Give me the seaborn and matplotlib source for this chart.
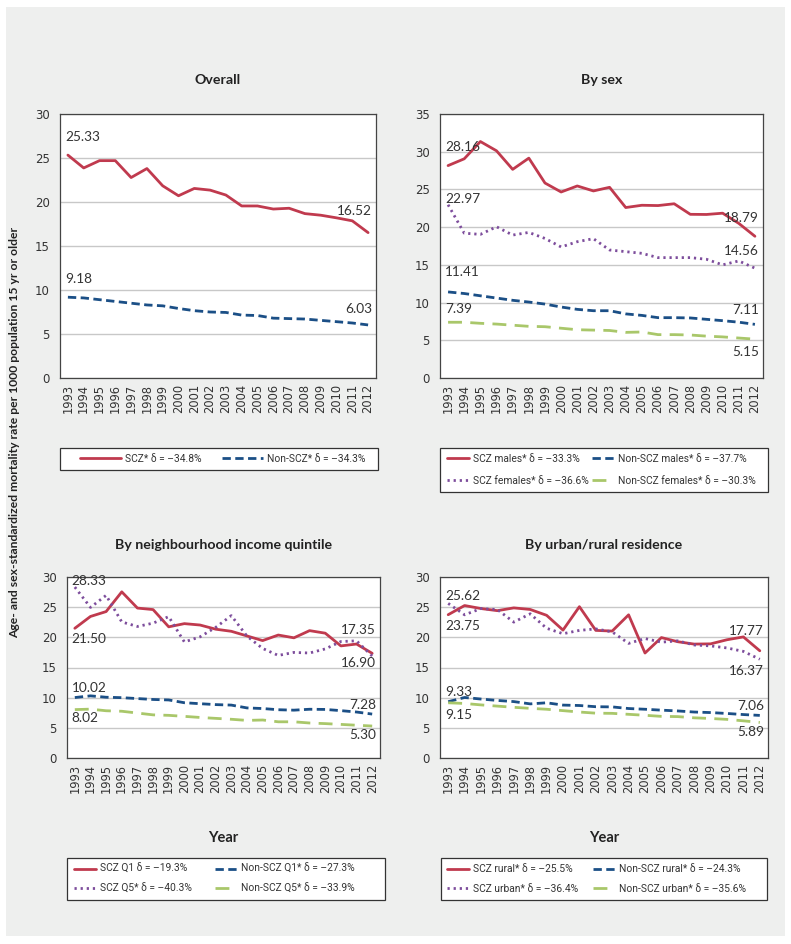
import matplotlib
matplotlib.use("Agg")
import pandas as pd
import matplotlib.pyplot as plt
import seaborn as sns
from matplotlib.patches import Rectangle
from matplotlib.ticker import MultipleLocator, FixedLocator

# --------------------------------------------------
# DATA
# --------------------------------------------------

years = list(range(1993, 2013))

overall_scz = [25.33, 23.87, 24.70, 24.70, 22.78, 23.80, 21.84, 20.71, 21.54, 21.35,
               20.79, 19.55, 19.55, 19.20, 19.29, 18.68, 18.50, 18.20, 17.86, 16.52]
overall_non = [9.18, 9.10, 8.90, 8.70, 8.50, 8.30, 8.20, 7.90, 7.65, 7.50,
               7.45, 7.15, 7.10, 6.80, 6.75, 6.70, 6.55, 6.40, 6.25, 6.03]

male_scz = [28.16, 29.06, 31.35, 30.12, 27.66, 29.15, 25.85, 24.66, 25.46, 24.80,
            25.28, 22.60, 22.90, 22.86, 23.10, 21.70, 21.68, 21.85, 20.50, 18.79]
female_scz = [22.97, 19.20, 19.04, 20.05, 18.95, 19.30, 18.50, 17.37, 18.07, 18.47,
              16.97, 16.75, 16.53, 15.96, 15.96, 15.96, 15.74, 15.00, 15.52, 14.56]
male_non = [11.41, 11.20, 10.90, 10.60, 10.30, 10.07, 9.80, 9.41, 9.10, 8.92,
            8.92, 8.50, 8.30, 8.00, 8.00, 7.96, 7.78, 7.60, 7.40, 7.11]
female_non = [7.39, 7.39, 7.25, 7.15, 7.00, 6.85, 6.80, 6.60, 6.40, 6.35,
              6.30, 6.05, 6.10, 5.75, 5.75, 5.70, 5.55, 5.45, 5.30, 5.15]

q1_scz = [21.50, 23.46, 24.27, 27.54, 24.85, 24.60, 21.74, 22.27, 22.04, 21.35,
          21.00, 20.23, 19.46, 20.38, 19.92, 21.11, 20.69, 18.58, 18.89, 17.35]
q5_scz = [28.33, 24.96, 26.96, 22.55, 21.80, 22.35, 23.43, 19.23, 20.08, 21.65,
          23.60, 20.20, 18.16, 17.00, 17.50, 17.40, 18.08, 19.30, 19.42, 16.90]
q1_non = [10.02, 10.30, 10.07, 10.00, 9.85, 9.70, 9.62, 9.16, 9.00, 8.85,
          8.77, 8.30, 8.20, 8.00, 7.93, 8.08, 8.05, 7.85, 7.62, 7.28]
q5_non = [8.02, 8.10, 7.83, 7.75, 7.45, 7.15, 7.07, 6.90, 6.72, 6.57,
          6.42, 6.23, 6.30, 6.00, 6.00, 5.80, 5.70, 5.57, 5.43, 5.30]

rural_scz = [23.75, 25.27, 24.77, 24.42, 24.88, 24.62, 23.65, 21.20, 25.08, 21.15,
             21.04, 23.73, 17.40, 19.96, 19.27, 18.88, 18.92, 19.60, 20.07, 17.77]
urban_scz = [25.62, 23.73, 24.77, 24.60, 22.52, 23.90, 21.50, 20.60, 21.15, 21.40,
             20.90, 19.00, 19.80, 19.20, 19.42, 18.73, 18.58, 18.24, 17.67, 16.37]
rural_non = [9.33, 10.03, 9.77, 9.54, 9.35, 8.97, 9.15, 8.77, 8.70, 8.50,
             8.47, 8.20, 8.08, 7.93, 7.80, 7.62, 7.53, 7.38, 7.20, 7.06]
urban_non = [9.15, 9.04, 8.80, 8.60, 8.40, 8.23, 8.08, 7.85, 7.62, 7.43,
             7.40, 7.24, 7.08, 6.90, 6.86, 6.66, 6.55, 6.40, 6.16, 5.89]

# --------------------------------------------------
# STYLE
# --------------------------------------------------

sns.set_style("white")
plt.rcParams["font.family"] = ["Lato", "DejaVu Sans"]

RED = "#c03a4e"
BLUE = "#1b4f86"
PURPLE = "#7d4d9c"
GREEN = "#a9c76a"
BG = "#eeefee"
TEXT = "#333333"
LEGEND_FONT = ["Roboto", "DejaVu Sans"]

styles = {
    "red": dict(color=RED, linestyle="-"),
    "blue": dict(color=BLUE, linestyle=(0, (3, 1.6))),
    "purple": dict(color=PURPLE, linestyle=(0, (0.8, 1.4))),
    "green": dict(color=GREEN, linestyle=(0, (5, 3))),
}

W, H = 791, 944

fig = plt.figure(figsize=(W / 100, H / 100), dpi=100, facecolor="white")
fig.patches.append(
    Rectangle((6 / W, 1 - 936 / H), 779 / W, 929 / H,
              transform=fig.transFigure, facecolor=BG, edgecolor="none", zorder=-10)
)


def px_axes(left, top, right, bottom):
    return fig.add_axes([left / W, 1 - bottom / H, (right - left) / W, (bottom - top) / H])


def draw_panel(ax, title, series, ymax, notes, legend_spec, title_y, year_y):
    for values, style_key, label in series:
        df = pd.DataFrame({"year": years, "rate": values})
        sns.lineplot(data=df, x="year", y="rate", ax=ax, label=label,
                     linewidth=2, **styles[style_key])

    ax.set_xlim(1992.5, 2012.5)
    ax.set_ylim(0, ymax)
    ax.yaxis.set_major_locator(MultipleLocator(5))
    ax.xaxis.set_major_locator(FixedLocator(years))
    ax.xaxis.set_minor_locator(FixedLocator([y - 0.5 for y in years] + [2012.5]))
    ax.set_xticklabels([str(y) for y in years], rotation=90, fontsize=8.3,
                       family="DejaVu Sans", color=TEXT)
    ax.tick_params(axis="x", which="major", length=0, pad=4)
    ax.tick_params(axis="x", which="minor", length=4, width=0.8, color="#444444")
    ax.tick_params(axis="y", which="major", length=4, width=0.8, color="#444444",
                   labelsize=8.5, labelcolor=TEXT)
    for lbl in ax.get_yticklabels():
        lbl.set_family("DejaVu Sans")
    ax.yaxis.grid(True, color="#c8c8c8", linewidth=1)
    ax.set_axisbelow(True)
    for sp in ax.spines.values():
        sp.set_color("#444444")
        sp.set_linewidth(0.9)
    ax.set_xlabel("")
    ax.set_ylabel("")

    ax.text(0.5, title_y, title, transform=ax.transAxes, ha="center", va="center",
            fontsize=10.2, fontweight="bold", color="#222222")
    if year_y is not None:
        ax.text(0.5, year_y, "Year", transform=ax.transAxes, ha="center",
                va="center", fontsize=10.5, fontweight="bold", color="#222222")

    for idx, end, dy in notes:
        vals = series[idx][0]
        if end == 0:
            x, v, ha, dx = years[0], vals[0], "left", -3
        else:
            x, v, ha, dx = years[-1], vals[-1], "right", 4
        ax.annotate(f"{v:.2f}", (x, v), xytext=(dx, dy), textcoords="offset pixels",
                    ha=ha, va="center", fontsize=9.8, color=TEXT)

    # legend: own frame box, each column as a separate one-column legend
    (fl, ft, fr, fb), col_x, hlen, lsp = legend_spec
    fig.patches.append(
        Rectangle((fl / W, 1 - fb / H), (fr - fl) / W, (fb - ft) / H,
                  transform=fig.transFigure, facecolor="white",
                  edgecolor="#333333", linewidth=0.9, zorder=-5)
    )
    handles, labels = ax.get_legend_handles_labels()
    ax.get_legend().remove()
    rows = len(handles) // len(col_x)
    ymid = (ft + fb) / 2
    for c, x in enumerate(col_x):
        leg = fig.legend(handles[c * rows:(c + 1) * rows], labels[c * rows:(c + 1) * rows],
                         loc="center left", bbox_to_anchor=(x / W, 1 - ymid / H),
                         bbox_transform=fig.transFigure, frameon=False,
                         prop={"family": LEGEND_FONT, "size": 7.4},
                         borderaxespad=0, borderpad=0, handlelength=hlen,
                         handletextpad=0.4, labelspacing=lsp)
        for t in leg.get_texts():
            t.set_color(TEXT)


# --------------------------------------------------
# PANELS
# --------------------------------------------------

ax1 = px_axes(60, 114, 376, 378)
draw_panel(
    ax1, "Overall",
    [(overall_scz, "red", "SCZ* δ = –34.8%"),
     (overall_non, "blue", "Non-SCZ* δ = –34.3%")],
    30,
    [(0, 0, 18), (1, 0, 18), (0, 1, 22), (1, 1, 16)],
    ((60, 448, 378, 470), (80, 222), 4.0, 0.6), 1.13, None,
)

ax2 = px_axes(440, 114, 763, 378)
draw_panel(
    ax2, "By sex",
    [(male_scz, "red", "SCZ males* δ = –33.3%"),
     (female_scz, "purple", "SCZ females* δ = –36.6%"),
     (male_non, "blue", "Non-SCZ males* δ = –37.7%"),
     (female_non, "green", "Non-SCZ females* δ = –30.3%")],
    35,
    [(0, 0, 19), (1, 0, 6), (2, 0, 20), (3, 0, 13),
     (0, 1, 18), (1, 1, 17), (2, 1, 14), (3, 1, -13)],
    ((440, 448, 768, 492), (447, 592), 2.1, 1.15), 1.13, None,
)

ax3 = px_axes(67, 577, 380, 758)
draw_panel(
    ax3, "By neighbourhood income quintile",
    [(q1_scz, "red", "SCZ Q1 δ = –19.3%"),
     (q5_scz, "purple", "SCZ Q5* δ = –40.3%"),
     (q1_non, "blue", "Non-SCZ Q1* δ = –27.3%"),
     (q5_non, "green", "Non-SCZ Q5* δ = –33.9%")],
    30,
    [(1, 0, 6), (0, 0, -11), (2, 0, 10), (3, 0, -8),
     (0, 1, 23), (1, 1, -7), (2, 1, 9), (3, 1, -9)],
    ((67, 858, 385, 900), (74, 215), 2.1, 0.95), 1.177, -0.442,
)

ax4 = px_axes(440, 577, 768, 758)
draw_panel(
    ax4, "By urban/rural residence",
    [(rural_scz, "red", "SCZ rural* δ = –25.5%"),
     (urban_scz, "purple", "SCZ urban* δ = –36.4%"),
     (rural_non, "blue", "Non-SCZ rural* δ = –24.3%"),
     (urban_non, "green", "Non-SCZ urban* δ = –35.6%")],
    30,
    [(1, 0, 7), (0, 0, -11), (2, 0, 10), (3, 0, -12),
     (0, 1, 20), (1, 1, -12), (2, 1, 9), (3, 1, -10)],
    ((441, 858, 767, 900), (447, 593), 2.1, 0.95), 1.177, -0.442,
)

fig.text(15 / W, 1 - 432 / H,
         "Age- and sex-standardized mortality rate per 1000 population 15 yr or older",
         rotation=90, ha="center", va="center", fontsize=8.7, fontweight="bold",
         color="#222222")

fig.savefig("out.png", dpi=100, facecolor="white")
